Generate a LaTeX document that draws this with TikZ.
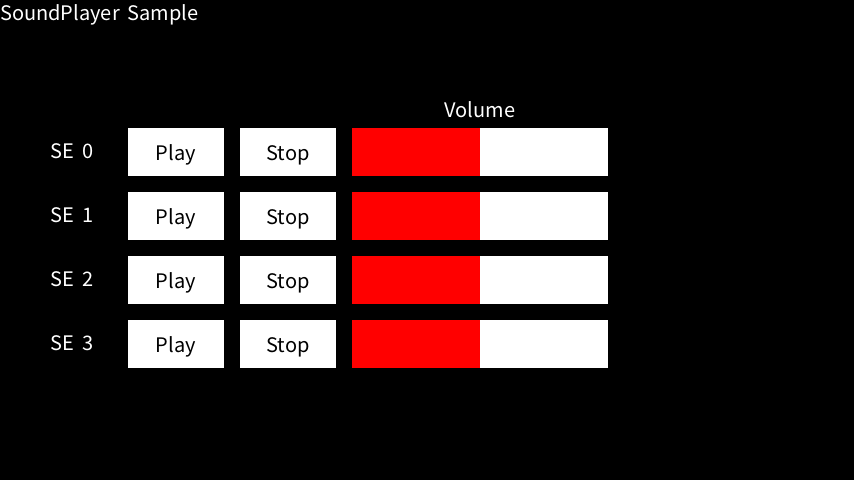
\documentclass[tikz,border=0pt]{standalone}
\usepackage{fontspec}
\setmainfont[WordSpace = 1.8]{Noto Sans CJK JP}
\usepackage{tikz}

\tikzset{
	whiteText/.style = {text = white, font = \fontsize{20}{24}\selectfont, inner sep = 0pt, text height = 16pt, text depth = 0pt},
	buttonBox/.style = {fill = white, minimum width = 96pt, minimum height = 48pt, inner sep = 0pt, text height = 16pt, text depth = 0pt, font = \fontsize{20}{24}\selectfont},
	volumeBar/.style = {fill = white, minimum width = 256pt, minimum height = 48pt, inner sep = 0pt},
	volumeLevel/.style = {fill = red, minimum width = 128pt, minimum height = 48pt, inner sep = 0pt, anchor = west}
}

\begin{document}
\begin{tikzpicture}[x = 1pt, y = -1pt]
					\def\xMAX{854};
					\def\yMAX{480};

					\newcommand{\drawRow}[2]
					{
						\node [whiteText] (se#1) at (72,#2 - 2) {SE #1};
						\node [buttonBox] (play#1) at (176,#2) {Play};
						\node [buttonBox] (stop#1) at (288,#2) {Stop};
						\node [volumeBar] (vol#1) at (480,#2) {};
						\node [volumeLevel] (level#1) at (vol#1.west) {};
					}

					\fill [black] (0,0) rectangle (\xMAX,\yMAX);
					\useasboundingbox (0,0) rectangle (\xMAX,\yMAX);

					\node [whiteText, anchor = west] (title) at (0,12) {SoundPlayer Sample};
					\node [whiteText] (volume) at (480,109) {Volume};

					\drawRow{0}{152};
					\drawRow{1}{216};
					\drawRow{2}{280};
					\drawRow{3}{344};

				\end{tikzpicture}
\end{document}
